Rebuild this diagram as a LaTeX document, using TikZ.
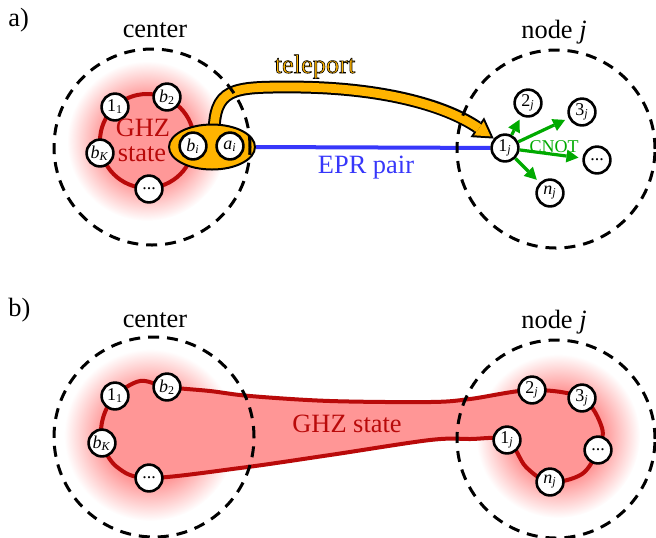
\documentclass[tikz,border=0pt]{standalone}
\usepackage{fontspec}
\setmainfont{Liberation Serif}
\newfontfamily\serifx{Liberation Serif}
\usetikzlibrary{shapes.geometric,arrows.meta}
\definecolor{ghzred}{RGB}{185,10,10}
\definecolor{ghzfill}{RGB}{255,150,150}
\definecolor{glowc}{RGB}{255,152,152}
\definecolor{tele}{RGB}{255,180,0}
\definecolor{eprblue}{RGB}{55,55,250}
\definecolor{cnotgreen}{RGB}{0,170,0}
\pgfdeclareradialshading{glow}{\pgfpoint{0cm}{0cm}}{color(0bp)=(glowc); color(14bp)=(glowc); color(25bp)=(white); color(50bp)=(white)}
\pgfdeclarelayer{bg}
\pgfsetlayers{bg,main}
\newcommand{\outlinedtext}[1]{{\color{tele}\special{pdf:literal direct 0 G 0.3 w 2 Tr}#1\special{pdf:literal direct 0 Tr}}}
\begin{document}
\begin{tikzpicture}[x=0.5pt,y=-0.5pt,
  qubit/.style={circle,draw=black,line width=1.3pt,fill=white,minimum size=13.4pt,inner sep=0pt,font=\serifx\fontsize{9}{10}\selectfont},
  region/.style={draw=black,line width=1.5pt,dash pattern=on 5.5pt off 4pt},
  lbl/.style={font=\serifx\fontsize{13.2}{15}\selectfont,anchor=base,inner sep=0pt},
  ghzline/.style={draw=ghzred,line width=2pt},
  cnot/.style={draw=cnotgreen,line width=1.6pt,-{Triangle[length=6pt,width=6.5pt,line width=0pt]},shorten >=2pt}
]
\useasboundingbox (0,0) rectangle (656,537);

% ---------------- panel a ----------------
\node[ellipse,draw=black,line width=1pt,fill=tele,minimum width=43pt,minimum height=22.5pt,inner sep=0pt] (ell) at (212,147) {};
\coordinate (tstart) at (214,135);

\draw[region] (152,147) circle (49pt);
\draw[region] (556,149) circle (49.5pt);

\node[qubit] (a11) at (115,107) {1\textsubscript{1}};
\node[qubit] (ab2) at (167,97) {\textit{b}\textsubscript{2}};
\node[qubit] (abK) at (100,153) {\textit{b}\textsubscript{\textit{K}}};
\node[qubit] (adt) at (149,189) {...};
\node[qubit] (abi) at (193,146) {\textit{b}\textsubscript{\textit{i}}};
\node[qubit] (aai) at (230,146) {\textit{a}\textsubscript{\textit{i}}};

\node[qubit] (n1j) at (505,148) {1\textsubscript{\textit{j}}};
\node[qubit] (n2j) at (528,103) {2\textsubscript{\textit{j}}};
\node[qubit] (n3j) at (582,112) {3\textsubscript{\textit{j}}};
\node[qubit] (ndj) at (597,160) {...};
\node[qubit] (nnj) at (550,193) {\textit{n}\textsubscript{\textit{j}}};

\draw[cnot] (n1j) -- (n2j);
\draw[cnot] (n1j) -- (n3j);
\draw[cnot] (n1j) -- (ndj);
\draw[cnot] (n1j) -- (nnj);

\node[lbl,anchor=base west] (la) at (8,26) {a)};
\node[lbl] (cena) at (155,37) {center};
\node[lbl] (noda) at (554,38) {node \textit{j}};
\node[lbl,text=ghzred] (ghza1) at (143,136) {GHZ};
\node[lbl,text=ghzred] (ghza2) at (142,161) {state};
\node[lbl] (tel) at (315,73) {\outlinedtext{teleport}};
\node[lbl,text=eprblue] (epr) at (366,173) {EPR pair};
\node[lbl,font=\serifx\fontsize{9}{10}\selectfont,text=cnotgreen] (cnotl) at (554,152) {CNOT};

% ---------------- panel b ----------------
\draw[region] (154,437) circle (50pt);
\draw[region] (556,439) circle (49.5pt);

\node[qubit] (b11) at (115,396) {1\textsubscript{1}};
\node[qubit] (bb2) at (167,387) {\textit{b}\textsubscript{2}};
\node[qubit] (bbK) at (102,443) {\textit{b}\textsubscript{\textit{K}}};
\node[qubit] (bdt) at (149,478) {...};

\node[qubit] (r1j) at (507,440) {1\textsubscript{\textit{j}}};
\node[qubit] (r2j) at (532,390) {2\textsubscript{\textit{j}}};
\node[qubit] (r3j) at (582,398) {3\textsubscript{\textit{j}}};
\node[qubit] (rdj) at (598,450) {...};
\node[qubit] (rnj) at (550,482) {\textit{n}\textsubscript{\textit{j}}};

\node[lbl,anchor=base west] (lb) at (8,316) {b)};
\node[lbl] (cenb) at (155,327) {center};
\node[lbl] (nodb) at (554,328) {node \textit{j}};
\node[lbl,anchor=center,text=ghzred] (ghzb) at (347,424) {GHZ state};

% ---------------- background ----------------
\begin{pgfonlayer}{bg}
\shade[shading=glow] (147,141) circle (40pt);
\shade[shading=glow] (150,435) circle (43pt);
\shade[shading=glow] (558,436) circle (41pt);
\draw[ghzline] (147,141) circle (23.5pt);
% teleport band
\draw[line width=6.4pt,black,-{Triangle[length=10pt,width=12pt,line width=0pt]}]
  (tstart) .. controls (214,88) and (232,87) .. (290,87) .. controls (380,87) and (445,105) .. (n1j.140);
\draw[line width=4.4pt,tele,shorten >=1.94pt,-{Triangle[length=7.06pt,width=8.47pt,line width=0pt]}]
  (tstart) .. controls (214,88) and (232,87) .. (290,87) .. controls (380,87) and (445,105) .. (n1j.140);
% EPR pair
\draw[eprblue,line width=2pt] (ell.east) -- (n1j);
% GHZ shape of panel b
\draw[ghzline,fill=ghzfill] plot[smooth cycle,tension=0.55] coordinates {
  (bb2.center) (210,391) (250,396) (330,401) (430,402) (470,399)
  (r2j.center) (r3j.center) (602,428) (rdj.center) (582,474) (rnj.center) (526,467)
  (r1j.center) (470,439) (430,440) (330,455) (240,468)
  (bdt.center) (117,467) (bbK.center) (103,418) (b11.center) (140,381)};
\end{pgfonlayer}
\end{tikzpicture}
\end{document}
